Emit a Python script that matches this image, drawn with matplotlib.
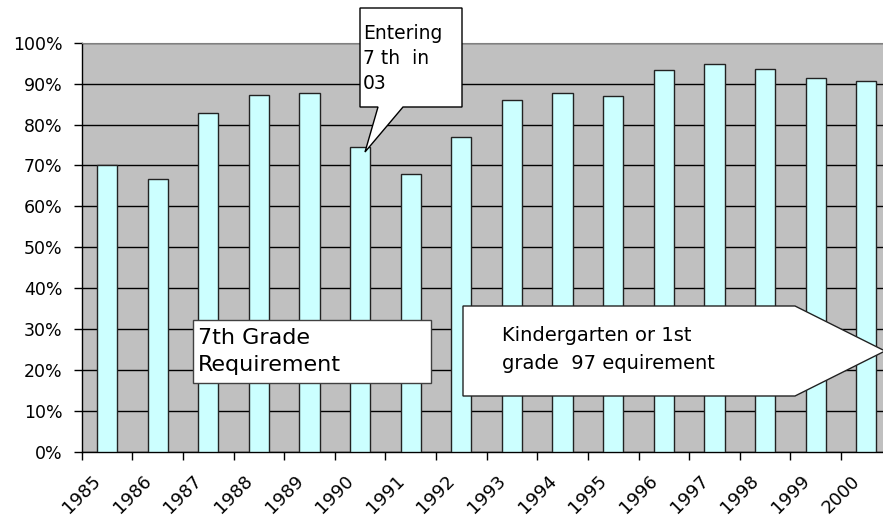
import matplotlib
matplotlib.use("Agg")
import matplotlib.pyplot as plt
from matplotlib.patches import Polygon
from matplotlib.transforms import ScaledTranslation
import numpy as np

years = ["1985", "1986", "1987", "1988", "1989", "1990", "1991", "1992",
         "1993", "1994", "1995", "1996", "1997", "1998", "1999", "2000"]
values = [70.0, 66.7, 82.7, 87.2, 87.8, 74.6, 68.0, 76.9,
          85.9, 87.8, 86.9, 93.4, 94.8, 93.6, 91.4, 90.6]
ytick_vals = [0, 10, 20, 30, 40, 50, 60, 70, 80, 90, 100]
ytick_labels = [f"{v}%" for v in ytick_vals]

W, H = 883, 528
fig = plt.figure(figsize=(W / 100, H / 100), dpi=100)
plt.rcParams['font.family'] = ['DejaVu Sans']

def P(x, y):
    return (x / W, 1 - y / H)

left, right, top, bottom = 81.7, 891.6, 42.7, 451.7
ax = fig.add_axes([left / W, 1 - bottom / H, (right - left) / W, (bottom - top) / H])
ax.set_facecolor("#C0C0C0")

x = np.arange(len(years)) + 0.5
ax.bar(x, values, width=0.4, color="#CCFFFF", edgecolor="#222222", linewidth=1.0, zorder=3)
ax.set_xlim(0, len(years))
ax.set_ylim(0, 100)

ax.set_yticks(ytick_vals)
ax.set_yticklabels(ytick_labels, fontsize=12.5)
ax.yaxis.grid(True, color="black", linewidth=1.0)
ax.set_axisbelow(True)
ax.tick_params(axis="y", length=6, width=1, pad=8, colors="black")

ax.set_xticks(x)
ax.set_xticklabels(years, fontsize=13)
ax.set_xticks(np.arange(0, len(years) + 1), minor=True)
ax.tick_params(axis="x", which="major", length=0, pad=19)
ax.tick_params(axis="x", which="minor", length=6, width=1)
off = ScaledTranslation(-9 / 100, 0, fig.dpi_scale_trans)
for lab in ax.get_xticklabels():
    lab.set_rotation(45)
    lab.set_ha("right")
    lab.set_va("center")
    lab.set_rotation_mode("anchor")
    lab.set_transform(lab.get_transform() + off)

for s in ["left", "bottom"]:
    ax.spines[s].set_color("black")
    ax.spines[s].set_linewidth(1.0)
ax.spines["top"].set_color("#808080")
ax.spines["right"].set_visible(False)

# Callout "Entering 7 th in 03"
callout = Polygon([P(360, 8), P(462, 8), P(462, 107), P(403, 107), P(365, 152),
                   P(378, 107), P(360, 107)], closed=True, transform=fig.transFigure,
                  facecolor="white", edgecolor="black", linewidth=1.0, zorder=5)
fig.add_artist(callout)
fig.text(*P(363, 24), "Entering\n7 th  in\n03", fontsize=13.5, ha="left", va="top",
         linespacing=1.4, zorder=6)

# 7th Grade Requirement box
box = Polygon([P(193, 320), P(431, 320), P(431, 383), P(193, 383)], closed=True,
              transform=fig.transFigure, facecolor="white", edgecolor="#404040",
              linewidth=1.0, zorder=5)
fig.add_artist(box)
fig.text(*P(198, 328), "7th Grade\nRequirement", fontsize=16, ha="left", va="top",
         linespacing=1.45, zorder=6)

# Arrow callout
arrow = Polygon([P(463, 306), P(795, 306), P(885, 351), P(795, 396), P(463, 396)],
                closed=True, transform=fig.transFigure, facecolor="white",
                edgecolor="#222222", linewidth=1.0, zorder=5)
fig.add_artist(arrow)
fig.text(*P(502, 326), "Kindergarten or 1st\ngrade  97 equirement", fontsize=14,
         ha="left", va="top", linespacing=1.6, zorder=6)

fig.savefig("out.png", dpi=100)
